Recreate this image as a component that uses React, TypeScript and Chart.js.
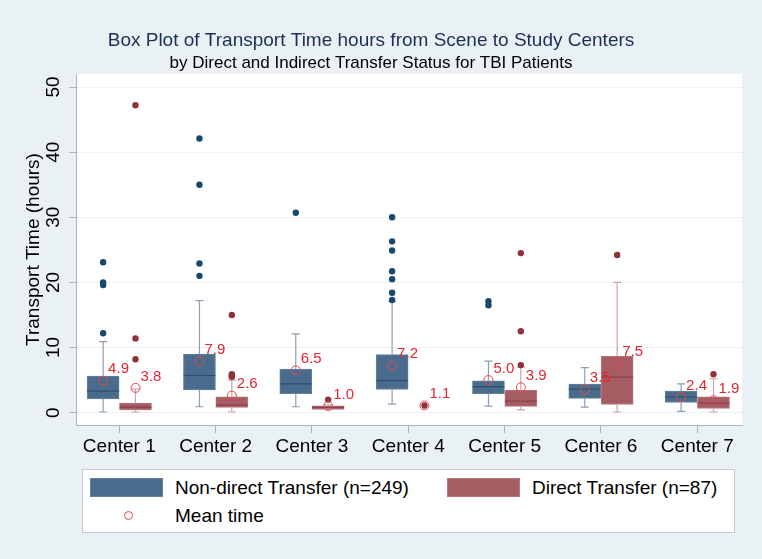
import React, { useEffect, useRef } from 'react';
import { Chart, registerables } from 'chart.js';

Chart.register(...registerables);

const FONT = "'Liberation Sans', Arial, Helvetica, sans-serif";

const categories = ['Center 1', 'Center 2', 'Center 3', 'Center 4', 'Center 5', 'Center 6', 'Center 7'];
const yTickValues = [0, 10, 20, 30, 40, 50];

// Non-direct transfer (n=249)
const nonDirectLow = [0.1, 0.9, 0.9, 1.3, 1.0, 0.85, 0.2];
const nonDirectQ1 = [2.1, 3.5, 2.9, 3.55, 2.9, 2.2, 1.55];
const nonDirectMedian = [3.3, 5.7, 4.4, 4.9, 4.0, 3.6, 2.4];
const nonDirectQ3 = [5.6, 9.0, 6.7, 8.9, 4.9, 4.4, 3.3];
const nonDirectHigh = [10.9, 17.2, 12.1, 17.1, 7.9, 6.9, 4.4];
const nonDirectMean = [4.9, 7.9, 6.5, 7.2, 5.0, 3.5, 2.4];
const nonDirectOutliers = [
  [12.2, 19.6, 20.0, 23.1],
  [21.0, 22.9, 35.0, 42.1],
  [30.7],
  [17.3, 18.4, 20.5, 21.7, 24.9, 26.3, 30.0],
  [16.5, 17.1],
  [],
  [],
];

// Direct transfer (n=87)
const directLow = [0.1, 0.1, 0.5, null, 0.43, 0.1, 0.1];
const directQ1 = [0.43, 0.8, 0.5, null, 0.95, 1.25, 0.63];
const directMedian = [0.85, 1.2, 0.8, null, 1.77, 5.45, 1.46];
const directQ3 = [1.46, 2.43, 1.04, null, 3.45, 8.7, 2.43];
const directHigh = [3.6, 5.0, 1.2, null, 7.0, 20.0, 5.2];
const directMean = [3.8, 2.6, 1.0, 1.1, 3.9, 7.5, 1.9];
const directOutliers = [
  [8.2, 11.4, 47.2],
  [5.5, 5.7, 5.9, 15.0],
  [2.0],
  [1.1],
  [7.3, 12.5, 24.5],
  [24.2],
  [5.9],
];

const SHIFT = 0.168; // half box offset in category units
const CAP = 0.042; // half whisker-cap width

const BLUE_FILL = '#4a6c8c';
const BLUE_EDGE = '#6282a0';
const BLUE_MED = '#2c4d6c';
const BLUE_WHISK = '#8d9fb2';
const BLUE_DOT = '#1a476f';
const RED_FILL = '#a65c63';
const RED_EDGE = '#b9777d';
const RED_MED = '#8c3f47';
const RED_WHISK = '#cda3a7';
const RED_DOT = '#8f323a';
const MEAN_COLOR = '#e8474e';
const LABEL_COLOR = '#e3262d';
const AXIS_COLOR = '#a9b6c1';

type Pt = { x: number; y: number | null };

function boxData(off: number, q1: (number | null)[], q3: (number | null)[]) {
  const out: { x: number; y: [number, number] }[] = [];
  q1.forEach((v, i) => {
    const w = q3[i];
    if (v != null && w != null) out.push({ x: i + 1 + off, y: [v, w] });
  });
  return out;
}

function whiskerData(off: number, lo: (number | null)[], q1: (number | null)[], q3: (number | null)[], hi: (number | null)[]) {
  const pts: Pt[] = [];
  lo.forEach((l, i) => {
    const a = q1[i], b = q3[i], h = hi[i];
    if (l == null || a == null || b == null || h == null) return;
    const c = i + 1 + off;
    pts.push({ x: c, y: l }, { x: c, y: a }, { x: c, y: null });
    pts.push({ x: c, y: b }, { x: c, y: h }, { x: c, y: null });
    pts.push({ x: c - CAP, y: h }, { x: c + CAP, y: h }, { x: c, y: null });
    pts.push({ x: c - CAP, y: l }, { x: c + CAP, y: l }, { x: c, y: null });
  });
  return pts;
}

function medianData(off: number, med: (number | null)[]) {
  const pts: Pt[] = [];
  med.forEach((m, i) => {
    if (m == null) return;
    const c = i + 1 + off;
    pts.push({ x: c - 0.165, y: m }, { x: c + 0.165, y: m }, { x: c, y: null });
  });
  return pts;
}

function outlierData(off: number, outs: number[][]) {
  const pts: { x: number; y: number }[] = [];
  outs.forEach((arr, i) => arr.forEach((v) => pts.push({ x: i + 1 + off, y: v })));
  return pts;
}

function meanData(off: number, means: number[]) {
  return means.map((v, i) => ({ x: i + 1 + off, y: v }));
}

const plotBgPlugin = {
  id: 'plotBg',
  beforeDraw(chart: any) {
    const { ctx, chartArea } = chart;
    ctx.save();
    ctx.fillStyle = '#ffffff';
    ctx.fillRect(chartArea.left, chartArea.top, chartArea.right - chartArea.left, chartArea.bottom - chartArea.top);
    ctx.restore();
  },
};

const labelsPlugin = {
  id: 'customLabels',
  afterDatasetsDraw(chart: any) {
    const { ctx } = chart;
    const xs = chart.scales.x;
    const ys = chart.scales.y;
    ctx.save();
    ctx.font = `15px ${FONT}`;
    ctx.fillStyle = LABEL_COLOR;
    ctx.textAlign = 'left';
    ctx.textBaseline = 'middle';
    const draw = (off: number, means: number[]) => {
      means.forEach((v, i) => {
        const px = xs.getPixelForValue(i + 1 + off);
        const py = ys.getPixelForValue(v);
        ctx.fillText(v.toFixed(1), px + 5, py - 11.5);
      });
    };
    draw(-SHIFT, nonDirectMean);
    draw(SHIFT, directMean);
    ctx.restore();
  },
  afterDraw(chart: any) {
    const { ctx } = chart;
    const ys = chart.scales.y;
    ctx.save();
    ctx.font = `19px ${FONT}`;
    ctx.fillStyle = '#000000';
    ctx.textAlign = 'center';
    ctx.textBaseline = 'middle';
    yTickValues.forEach((v) => {
      const py = ys.getPixelForValue(v);
      ctx.save();
      ctx.translate(53.5, py);
      ctx.rotate(-Math.PI / 2);
      ctx.fillText(String(v), 0, 0);
      ctx.restore();
    });
    ctx.restore();
  },
};

export default function App() {
  const ref = useRef<HTMLCanvasElement | null>(null);

  useEffect(() => {
    if (!ref.current) return;
    Chart.defaults.font.family = FONT;
    const chart = new Chart(ref.current, {
      type: 'scatter',
      data: {
        datasets: [
          {
            type: 'scatter',
            label: 'Mean time',
            data: [...meanData(-SHIFT, nonDirectMean), ...meanData(SHIFT, directMean)],
            pointStyle: 'circle',
            pointRadius: 4.5,
            backgroundColor: 'rgba(0,0,0,0)',
            borderColor: MEAN_COLOR,
            borderWidth: 1,
            order: 1,
          } as any,
          {
            type: 'scatter',
            label: 'Non-direct outliers',
            data: outlierData(-SHIFT, nonDirectOutliers),
            pointRadius: 3.2,
            backgroundColor: BLUE_DOT,
            borderWidth: 0,
            order: 2,
          } as any,
          {
            type: 'scatter',
            label: 'Direct outliers',
            data: outlierData(SHIFT, directOutliers),
            pointRadius: 3.2,
            backgroundColor: RED_DOT,
            borderWidth: 0,
            order: 2,
          } as any,
          {
            type: 'line',
            label: 'Non-direct median',
            data: medianData(-SHIFT, nonDirectMedian),
            borderColor: BLUE_MED,
            borderWidth: 1.2,
            pointRadius: 0,
            spanGaps: false,
            order: 3,
          } as any,
          {
            type: 'line',
            label: 'Direct median',
            data: medianData(SHIFT, directMedian),
            borderColor: RED_MED,
            borderWidth: 1.2,
            pointRadius: 0,
            spanGaps: false,
            order: 3,
          } as any,
          {
            type: 'line',
            label: 'Non-direct whiskers',
            data: whiskerData(-SHIFT, nonDirectLow, nonDirectQ1, nonDirectQ3, nonDirectHigh),
            borderColor: BLUE_WHISK,
            borderWidth: 1.2,
            pointRadius: 0,
            spanGaps: false,
            order: 4,
          } as any,
          {
            type: 'line',
            label: 'Direct whiskers',
            data: whiskerData(SHIFT, directLow, directQ1, directQ3, directHigh),
            borderColor: RED_WHISK,
            borderWidth: 1.2,
            pointRadius: 0,
            spanGaps: false,
            order: 4,
          } as any,
          {
            type: 'bar',
            label: 'Non-direct Transfer (n=249)',
            data: boxData(-SHIFT, nonDirectQ1, nonDirectQ3),
            backgroundColor: BLUE_FILL,
            borderColor: BLUE_EDGE,
            borderWidth: 1,
            borderSkipped: false,
            barThickness: 32,
            grouped: false,
            order: 5,
          } as any,
          {
            type: 'bar',
            label: 'Direct Transfer (n=87)',
            data: boxData(SHIFT, directQ1, directQ3),
            backgroundColor: RED_FILL,
            borderColor: RED_EDGE,
            borderWidth: 1,
            borderSkipped: false,
            barThickness: 32,
            grouped: false,
            order: 5,
          } as any,
        ],
      },
      options: {
        responsive: false,
        animation: false,
        events: [],
        layout: { padding: { left: 0, right: 20, top: 0, bottom: 0 } },
        plugins: {
          legend: { display: false },
          tooltip: { enabled: false },
          title: {
            display: true,
            text: 'Box Plot of Transport Time hours from Scene to Study Centers',
            color: '#1b2f57',
            font: { size: 19, weight: 'normal', family: FONT },
            padding: { top: 29, bottom: 0 },
          },
          subtitle: {
            display: true,
            text: 'by Direct and Indirect Transfer Status for TBI Patients',
            color: '#000000',
            font: { size: 17, weight: 'normal', family: FONT },
            padding: { top: 1, bottom: 0.8 },
          },
        },
        scales: {
          x: {
            type: 'linear',
            offset: false,
            min: 0.5505,
            max: 7.464,
            afterBuildTicks: (s: any) => {
              s.ticks = categories.map((_, i) => ({ value: i + 1 }));
            },
            ticks: {
              callback: (v: any) => categories[Math.round(Number(v)) - 1] ?? '',
              font: { size: 19, family: FONT },
              color: '#000000',
              padding: 2,
              maxRotation: 0,
              minRotation: 0,
              autoSkip: false,
            },
            grid: { offset: false, drawOnChartArea: false, drawTicks: true, tickLength: 8, tickColor: AXIS_COLOR },
            border: { display: true, color: AXIS_COLOR },
            afterFit: (s: any) => {
              s.height = 134;
            },
          },
          y: {
            type: 'linear',
            min: -1.9,
            max: 52.0,
            afterBuildTicks: (s: any) => {
              s.ticks = yTickValues.map((v) => ({ value: v }));
            },
            ticks: { display: false },
            grid: { color: '#edf2f5', lineWidth: 1, drawTicks: true, tickLength: 7, tickColor: AXIS_COLOR },
            border: { display: true, color: AXIS_COLOR },
            title: {
              display: true,
              text: 'Transport Time (hours)',
              color: '#000000',
              font: { size: 19, family: FONT },
              padding: { top: 22, bottom: 0 },
            },
            afterFit: (s: any) => {
              s.width = 76;
            },
          },
        },
      } as any,
      plugins: [plotBgPlugin, labelsPlugin],
    });
    return () => chart.destroy();
  }, []);

  const legendText: React.CSSProperties = {
    position: 'absolute',
    fontFamily: FONT,
    fontSize: 19,
    color: '#000',
    lineHeight: '22px',
    whiteSpace: 'nowrap',
  };

  return (
    <div
      style={{
        position: 'fixed',
        left: 0,
        top: 0,
        width: 762,
        height: 559,
        background: '#eaf1f4',
        overflow: 'hidden',
      }}
    >
      <canvas ref={ref} width={762} height={559} style={{ position: 'absolute', left: 0, top: 0, width: 762, height: 559 }} />
      <div
        style={{
          position: 'absolute',
          left: 82,
          top: 469,
          width: 651,
          height: 62,
          background: '#ffffff',
          border: '1px solid #c3ccd3',
        }}
      >
        <div style={{ position: 'absolute', left: 7, top: 8, width: 73, height: 19, background: BLUE_FILL, boxSizing: 'border-box', border: `1px solid ${BLUE_EDGE}` }} />
        <div style={{ ...legendText, left: 92, top: 7 }}>Non-direct Transfer (n=249)</div>
        <div style={{ position: 'absolute', left: 364, top: 8, width: 73, height: 19, background: RED_FILL, boxSizing: 'border-box', border: `1px solid ${RED_EDGE}` }} />
        <div style={{ ...legendText, left: 449, top: 7 }}>Direct Transfer (n=87)</div>
        <div
          style={{
            position: 'absolute',
            left: 41,
            top: 41,
            width: 7,
            height: 7,
            borderRadius: '50%',
            border: `1px solid ${MEAN_COLOR}`,
          }}
        />
        <div style={{ ...legendText, left: 92, top: 35 }}>Mean time</div>
      </div>
    </div>
  );
}
